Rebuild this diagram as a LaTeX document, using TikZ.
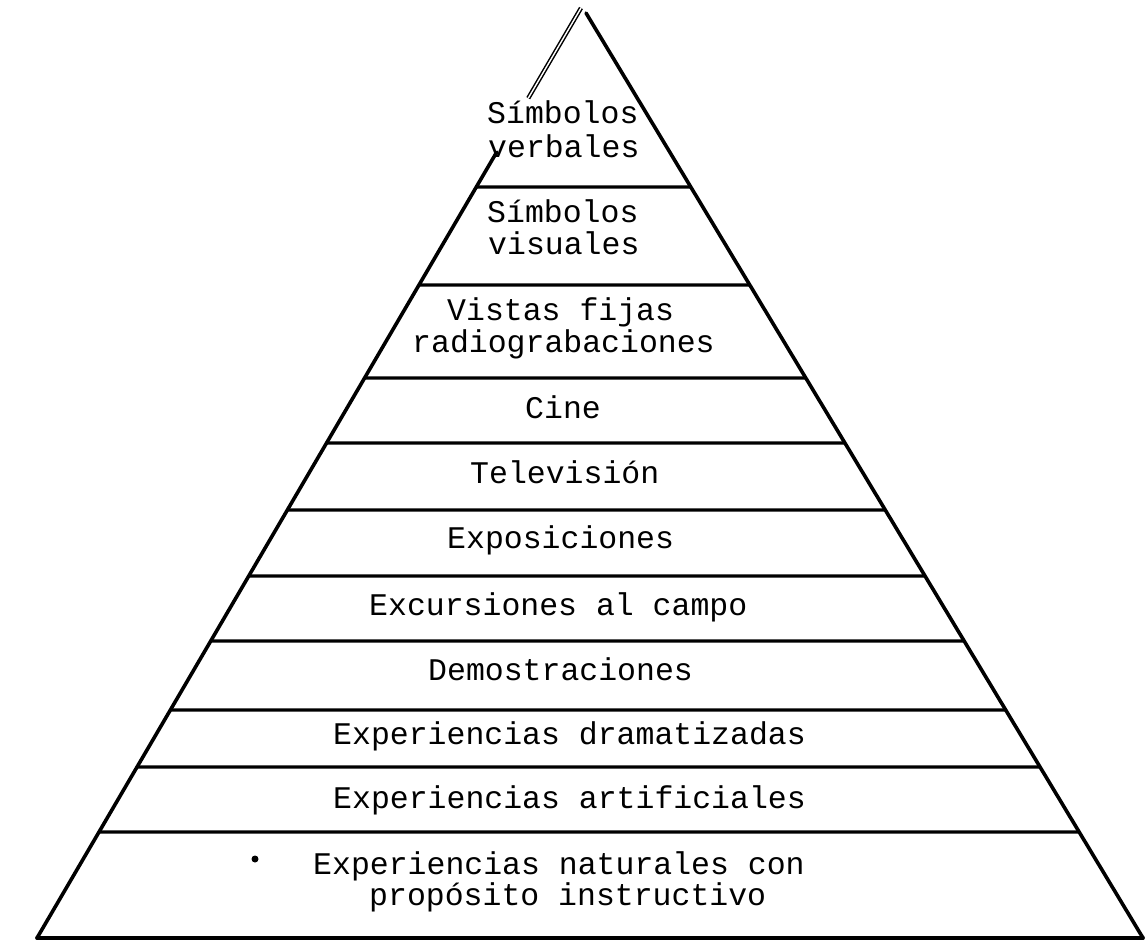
\documentclass[tikz,border=0pt]{standalone}
\usepackage{fontspec}
\setmonofont{Liberation Mono}
\usetikzlibrary{calc}
\begin{document}
\begin{tikzpicture}[x=1pt,y=-1pt,
  edge/.style={line width=3.6pt, line cap=round},
  thinedge/.style={line width=1.5pt, double, double distance=1.4pt},
  sep/.style={line width=3.2pt},
  lbl/.style={anchor=base west, inner sep=0pt, font=\ttfamily\fontsize{31.5}{34}\selectfont}]
\useasboundingbox (0,0) rectangle (1147,940);
\coordinate (AL) at (581,8);
\coordinate (AR) at (586,13);
\coordinate (BL) at (37,938);
\coordinate (BR) at (1143,938);
% outline
\draw[thinedge] (AL) -- ($(AL)!0.097!(BL)$);
\draw[edge] ($(AL)!0.155!(BL)$) -- (BL);
\draw[edge] (AR) -- (BR);
\draw[edge] (BL) -- (BR);
% level separators
\foreach \y in {187,285,378,443,510,576,641,710,767,832}{
  \draw[sep] ($(AL)!{(\y-8)/930}!(BL)$) -- ($(AR)!{(\y-13)/925}!(BR)$);
}
% labels
\node[lbl] (t1a) at (487,123) {Símbolos};
\node[lbl] (t1b) at (488,157) {verbales};
\node[lbl] (t2a) at (487,222) {Símbolos};
\node[lbl] (t2b) at (488,254) {visuales};
\node[lbl] (t3a) at (447,320) {Vistas fijas};
\node[lbl] (t3b) at (412,352) {radiograbaciones};
\node[lbl] (t4) at (525,418) {Cine};
\node[lbl] (t5) at (470,483) {Televisión};
\node[lbl] (t6) at (447,548) {Exposiciones};
\node[lbl] (t7) at (369,615) {Excursiones al campo};
\node[lbl] (t8) at (428,680) {Demostraciones};
\node[lbl] (t9) at (333,744) {Experiencias dramatizadas};
\node[lbl] (t10) at (333,808) {Experiencias artificiales};
\node[lbl] (t11a) at (313,874) {Experiencias naturales con};
\node[lbl] (t11b) at (369,905) {propósito instructivo};
\fill (255,859) circle (3.5);
\end{tikzpicture}
\end{document}
